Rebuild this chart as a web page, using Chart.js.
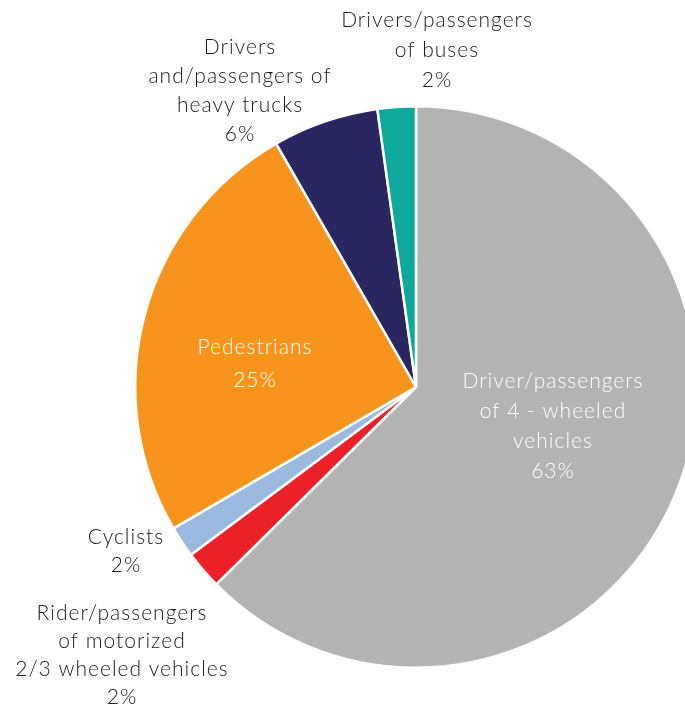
<!DOCTYPE html>
<html lang="en">
<head>
  <meta charset="UTF-8">
  <script src="https://cdn.jsdelivr.net/npm/chart.js"></script>
  <title>Road traffic deaths by road user</title>
  <style>
    html, body { margin: 0; padding: 0; background: #fff; overflow: hidden; }
    #wrap { position: absolute; left: 0; top: 0; }
  </style>
</head>
<body>
  <div id="wrap"><canvas id="pie" width="832" height="774"></canvas></div>

<script>
  // data (clockwise from 12 o'clock)
  const categorias = [
    'Driver/passengers of 4-wheeled vehicles',
    'Rider/passengers of motorized 2/3 wheeled vehicles',
    'Cyclists',
    'Pedestrians',
    'Drivers and/passengers of heavy trucks',
    'Drivers/passengers of buses'
  ];
  const valores = [62.6, 2.2, 1.8, 25.1, 6.1, 2.2];
  const rotulos = [
    ['Driver/passengers', 'of 4 - wheeled', 'vehicles'],
    ['Rider/passengers', 'of motorized', '2/3 wheeled vehicles'],
    ['Cyclists'],
    ['Pedestrians'],
    ['Drivers', 'and/passengers of', 'heavy trucks'],
    ['Drivers/passengers', 'of buses']
  ];

  const cores = ['#b3b3b3', '#ec2027', '#9ab9de', '#f7941d', '#2a2660', '#0ea89c'];

  // where each label block sits, relative to the pie centre
  const posRotulo = [
    { dx: 137, dy: 39, cor: '#ffffff', lh: 30 },
    { dx: -294, dy: 268, cor: '#1a1a1a', lh: 28 },
    { dx: -290, dy: 164, cor: '#1a1a1a', lh: 28 },
    { dx: -161, dy: -23, cor: '#ffffff', lh: 33 },
    { dx: -176, dy: -296, cor: '#1a1a1a', lh: 29 },
    { dx: 21, dy: -337, cor: '#1a1a1a', lh: 30 }
  ];

  const pluginRotulos = {
    id: 'rotulos',
    afterDatasetsDraw(chart) {
      const ctx = chart.ctx;
      const arcos = chart.getDatasetMeta(0).data;
      ctx.save();
      ctx.font = '300 21px Lato';
      ctx.letterSpacing = '1px';
      ctx.textAlign = 'center';
      ctx.textBaseline = 'middle';
      arcos.forEach((arco, i) => {
        const p = posRotulo[i];
        const linhas = rotulos[i].concat([Math.round(valores[i]) + '%']);
        const y0 = arco.y + p.dy - (linhas.length - 1) * p.lh / 2;
        ctx.fillStyle = p.cor;
        linhas.forEach((t, k) => ctx.fillText(t, arco.x + p.dx, y0 + k * p.lh));
      });
      ctx.restore();
    }
  };

  new Chart(document.getElementById('pie'), {
    type: 'pie',
    data: {
      labels: categorias,
      datasets: [{
        data: valores,
        backgroundColor: cores,
        borderColor: '#ffffff',
        borderWidth: 2.5
      }]
    },
    options: {
      responsive: false,
      animation: false,
      layout: { padding: { top: 105, bottom: 105, left: 101, right: 101 } },
      plugins: {
        legend: { display: false },
        tooltip: { enabled: false }
      }
    },
    plugins: [pluginRotulos]
  });
</script>
</body>
</html>
